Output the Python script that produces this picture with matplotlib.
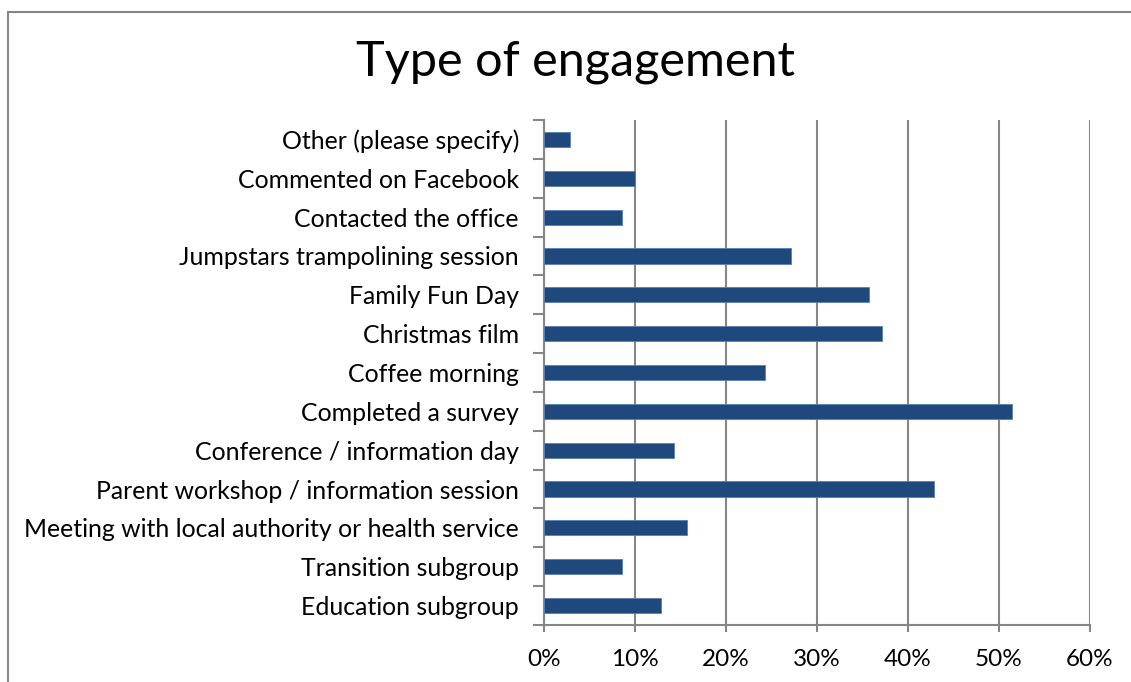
import matplotlib
matplotlib.use("Agg")
import matplotlib.pyplot as plt
from matplotlib.patches import Rectangle
from matplotlib.ticker import PercentFormatter

categories = [
    "Education subgroup",
    "Transition subgroup",
    "Meeting with local authority or health service",
    "Parent workshop / information session",
    "Conference / information day",
    "Completed a survey",
    "Coffee morning",
    "Christmas film",
    "Family Fun Day",
    "Jumpstars trampolining session",
    "Contacted the office",
    "Commented on Facebook",
    "Other (please specify)",
]
values = [12.86, 8.57, 15.71, 42.86, 14.29, 51.43, 24.29, 37.14, 35.71, 27.14, 8.57, 10.0, 2.86]
xticks = [0, 10, 20, 30, 40, 50, 60]

plt.rcParams['font.family'] = ['Lato', 'DejaVu Sans']

W, H = 1131, 682
fig = plt.figure(figsize=(W / 100, H / 100), dpi=100)
ax = fig.add_axes([544 / W, 1 - 625 / H, (1090 - 544) / W, (625 - 120) / H])

gray = "#868686"
ypos = list(range(len(categories)))
ax.barh(ypos, values, height=0.39, color="#1F497D", edgecolor="#5a7fb0", linewidth=0.6, zorder=3)
ax.set_ylim(-0.5, len(categories) - 0.5)
ax.set_xlim(0, 60)
ax.set_xticks(xticks)
ax.xaxis.set_major_formatter(PercentFormatter(decimals=0))
ax.set_yticks([y - 0.5 for y in ypos] + [len(categories) - 0.5])
ax.set_yticklabels([])
ax.set_yticks(ypos, minor=True)
ax.set_yticklabels(categories, minor=True)
ax.tick_params(axis='y', which='minor', length=0, pad=18, labelsize=17.9, labelcolor="black")
ax.tick_params(axis='y', which='major', length=8, width=1.5, color=gray)
ax.tick_params(axis='x', length=5, width=1.5, color=gray, labelsize=17.5, pad=12)
ax.grid(axis='x', color=gray, linewidth=1.5, zorder=0)
for s in ['top', 'right']:
    ax.spines[s].set_visible(False)
for s in ['left', 'bottom']:
    ax.spines[s].set_color(gray)
    ax.spines[s].set_linewidth(1.5)

fig.text(575 / W, 1 - 62 / H, "Type of engagement", ha='center', va='center', fontsize=35)

fig.patches.append(Rectangle((8 / W, -0.1), 1.2, 1 - 12 / H + 0.1, transform=fig.transFigure,
                             fill=False, edgecolor=gray, linewidth=1.5))

fig.savefig("out.png", dpi=100)
